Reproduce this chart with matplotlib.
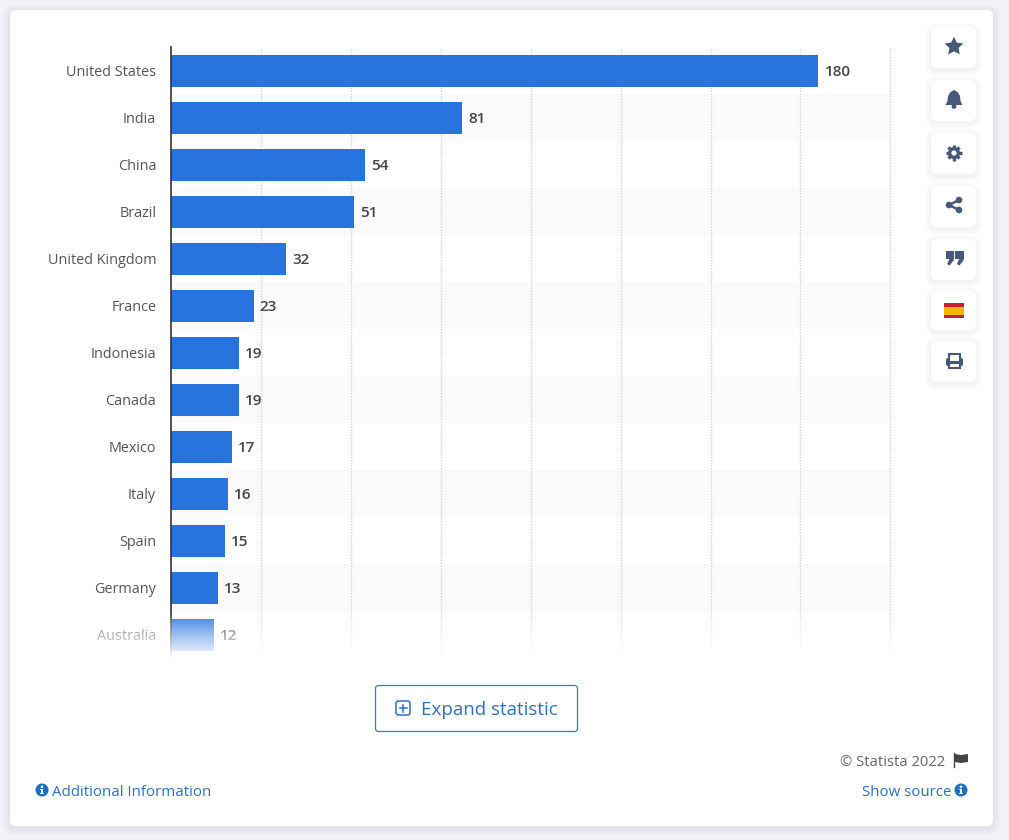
import numpy as np
import matplotlib
matplotlib.use("Agg")
import matplotlib.pyplot as plt
from matplotlib.patches import Circle, FancyBboxPatch, Polygon, Rectangle

countries = [
    "United States", "India", "China", "Brazil", "United Kingdom", "France", "Indonesia",
    "Canada", "Mexico", "Italy", "Spain", "Germany", "Australia",
]
values = [180, 81, 54, 51, 32, 23, 19, 19, 17, 16, 15, 13, 12]
grid_ticks = [0, 25, 50, 75, 100, 125, 150, 175, 200]

W, H = 1009, 840
BLUE = "#2874de"
LINK = "#2d72bd"
ICON = "#47597a"
TEXT = "#555555"

plt.rcParams["font.family"] = ["Open Sans", "DejaVu Sans"]


def round_box(ax, x0, y0, x1, y1, r, **kw):
    p = FancyBboxPatch((x0 + r, y0 + r), x1 - x0 - 2 * r, y1 - y0 - 2 * r,
                       boxstyle=f"round,pad={r},rounding_size={r}", **kw)
    ax.add_patch(p)
    return p


def soft_box(ax, x0, y0, x1, y1, r, face="white", spread=6, strength=0.012):
    # stacked translucent boxes stand in for the css shadow
    for s in range(spread, 0, -1):
        round_box(ax, x0 - s, y0 - s + 2, x1 + s, y1 + s + 2, r + s, fc="#33415c",
                  ec="none", alpha=strength)
    round_box(ax, x0, y0, x1, y1, r, fc=face, ec="none")


def info_icon(ax, cx, cy):
    ax.add_patch(Circle((cx, cy), 6.5, fc="#1c6fc0", ec="none"))
    ax.add_patch(Circle((cx, cy - 3.2), 1.3, fc="white", ec="none"))
    ax.add_patch(Rectangle((cx - 1.2, cy - 1), 2.4, 4.4, fc="white", ec="none"))
    ax.add_patch(Rectangle((cx - 2, cy + 3), 4, 1.2, fc="white", ec="none"))
    ax.add_patch(Rectangle((cx - 2, cy - 1), 2, 1.1, fc="white", ec="none"))


def draw_icons(ax):
    # star
    cx, cy = 954, 46.5
    ang = np.deg2rad(np.arange(0, 360, 36) - 90)
    rad = np.where(np.arange(10) % 2 == 0, 9.8, 4.8)
    ax.add_patch(Polygon(np.c_[cx + rad * np.cos(ang), cy + rad * np.sin(ang)], fc=ICON, ec="none"))
    # bell
    cx, cy = 954, 99
    ax.add_patch(Polygon([(cx - 8.5, cy + 6), (cx - 6.5, cy + 2), (cx - 6, cy - 3), (cx - 3.5, cy - 7),
                          (cx, cy - 9), (cx + 3.5, cy - 7), (cx + 6, cy - 3), (cx + 6.5, cy + 2),
                          (cx + 8.5, cy + 6)], fc=ICON, ec="none"))
    ax.add_patch(Circle((cx, cy + 7.5), 2.4, fc=ICON, ec="none"))
    # gear
    cx, cy = 954, 153
    for a in np.arange(0, 180, 45):
        t = np.deg2rad(a)
        ax.plot([cx - 7.8 * np.cos(t), cx + 7.8 * np.cos(t)], [cy - 7.8 * np.sin(t), cy + 7.8 * np.sin(t)],
                color=ICON, lw=2.4, solid_capstyle="butt", zorder=1)
    ax.add_patch(Circle((cx, cy), 6, fc=ICON, ec="none", zorder=2))
    ax.add_patch(Circle((cx, cy), 2.6, fc="white", ec="none", zorder=3))
    # share
    cx, cy = 954, 205
    ax.plot([cx + 5, cx - 5, cx + 5], [cy - 5, cy, cy + 5], color=ICON, lw=1.8)
    for dx, dy, r in [(5, -5, 3.3), (-5, 0, 3.3), (5, 5, 3.3)]:
        ax.add_patch(Circle((cx + dx, cy + dy), r, fc=ICON, ec="none"))
    # quotes
    cx, cy = 954.5, 257.5
    for dx in (-4.9, 4.9):
        ax.add_patch(Rectangle((cx + dx - 4.1, cy - 7), 8.2, 8.5, fc=ICON, ec="none"))
        ax.add_patch(Polygon([(cx + dx + 4.1, cy + 1), (cx + dx + 4.1, cy + 3), (cx + dx, cy + 8),
                              (cx + dx - 2.5, cy + 6.5), (cx + dx, cy + 1)], fc=ICON, ec="none"))
    # flag
    ax.add_patch(Rectangle((944, 303), 20, 15, fc="#c8202c", ec="none"))
    ax.add_patch(Rectangle((944, 307), 20, 7.5, fc="#f4b400", ec="none"))
    # printer
    cx, cy = 954.5, 361
    round_box(ax, cx - 8.5, cy - 3, cx + 8.5, cy + 5, 2, fc=ICON, ec="none", zorder=1)
    ax.add_patch(Rectangle((cx - 5.5, cy - 7.5), 11, 8, fc="white", ec=ICON, lw=1.5, zorder=2))
    ax.add_patch(Rectangle((cx - 5.5, cy + 1.5), 11, 5.5, fc="white", ec=ICON, lw=1.5, zorder=2))


fig = plt.figure(figsize=(W / 100, H / 100), dpi=100, facecolor="#f1f3f8")

# page furniture sits in a pixel-addressed layer behind the chart
bg = fig.add_axes([0, 0, 1, 1], zorder=0)
bg.set_xlim(0, W)
bg.set_ylim(H, 0)
bg.axis("off")
soft_box(bg, 10, 10, 993, 826, 6, spread=8, strength=0.006)
for y0, y1 in [(27, 68), (80, 121), (133, 174), (186, 227), (239, 280), (291, 330), (341, 382)]:
    soft_box(bg, 931, y0, 976, y1, 6, spread=6, strength=0.007)
draw_icons(bg)

# chart axes: x 0-200 spans 170.8-890.4 px, 13 rows of 47 px start at y=47.4
ax = fig.add_axes([170.8 / W, 1 - 658.4 / H, 719.6 / W, 611 / H], zorder=1)
ax.patch.set_alpha(0)
y = np.arange(len(countries))
for i in y[1::2]:
    ax.axhspan(i - 0.5, i + 0.5, color="#fafafa", lw=0, zorder=0)
for t in grid_ticks[1:]:
    ax.axvline(t, color="#d4d4d4", lw=1, ls=(0, (1, 1)), zorder=1, clip_on=False)
ax.barh(y, values, height=0.69, color=BLUE, zorder=2)
for i, v in zip(y, values):
    ax.annotate(str(v), (v, i), xytext=(6, 0), textcoords="offset pixels", va="center_baseline", ha="left",
                fontsize=11, fontweight="semibold", color="#444444", zorder=3)
ax.set_xlim(grid_ticks[0], grid_ticks[-1])
ax.set_ylim(len(countries) - 0.5, -0.5)
ax.set_yticks(y, countries, fontsize=10.4, color=TEXT)
ax.tick_params(axis="y", length=0, pad=10.5)
ax.set_xticks([])
for side in ("top", "right", "bottom"):
    ax.spines[side].set_visible(False)
ax.spines["left"].set_color("#333333")
ax.spines["left"].set_linewidth(1.2)

# foreground layer: white fade over the last row, button and footer
fg = fig.add_axes([0, 0, 1, 1], zorder=2)
fg.set_xlim(0, W)
fg.set_ylim(H, 0)
fg.axis("off")
fg.patch.set_alpha(0)
fade = np.ones((100, 2, 4))
fade[..., 3] = np.repeat(np.linspace(0.05, 1, 100)[:, None] ** 0.8, 2, axis=1)
fg.imshow(fade, extent=(20, 900, 660, 615), aspect="auto", zorder=1, interpolation="bilinear")
fg.set_xlim(0, W)
fg.set_ylim(H, 0)

round_box(fg, 375.5, 685.5, 577.5, 731.5, 3, fc="white", ec="#2a86c0", lw=0.9, zorder=2)
round_box(fg, 396, 701, 410, 715, 2.5, fc="none", ec=LINK, lw=1.1, zorder=3)
fg.plot([399.5, 406.5], [708, 708], color=LINK, lw=1.1, zorder=3)
fg.plot([403, 403], [704.5, 711.5], color=LINK, lw=1.1, zorder=3)
fg.text(421, 708, "Expand statistic", fontsize=13.5, color=LINK, va="center_baseline", ha="left", zorder=3)

fg.text(945, 760, "© Statista 2022", fontsize=10.6, color="#666666", va="center_baseline", ha="right")
fg.plot([954, 954], [753, 767], color="#444444", lw=1)
fg.add_patch(Polygon([(955, 754), (961, 755), (968, 754), (968, 762), (961, 763), (955, 762)], fc="#444444", ec="none"))
fg.text(951, 790, "Show source", fontsize=10.8, color=LINK, va="center_baseline", ha="right")
info_icon(fg, 961, 790)
info_icon(fg, 42, 790)
fg.text(52, 790, "Additional Information", fontsize=10.8, color=LINK, va="center_baseline", ha="left")

fig.savefig("out.png", dpi=100, facecolor=fig.get_facecolor())
